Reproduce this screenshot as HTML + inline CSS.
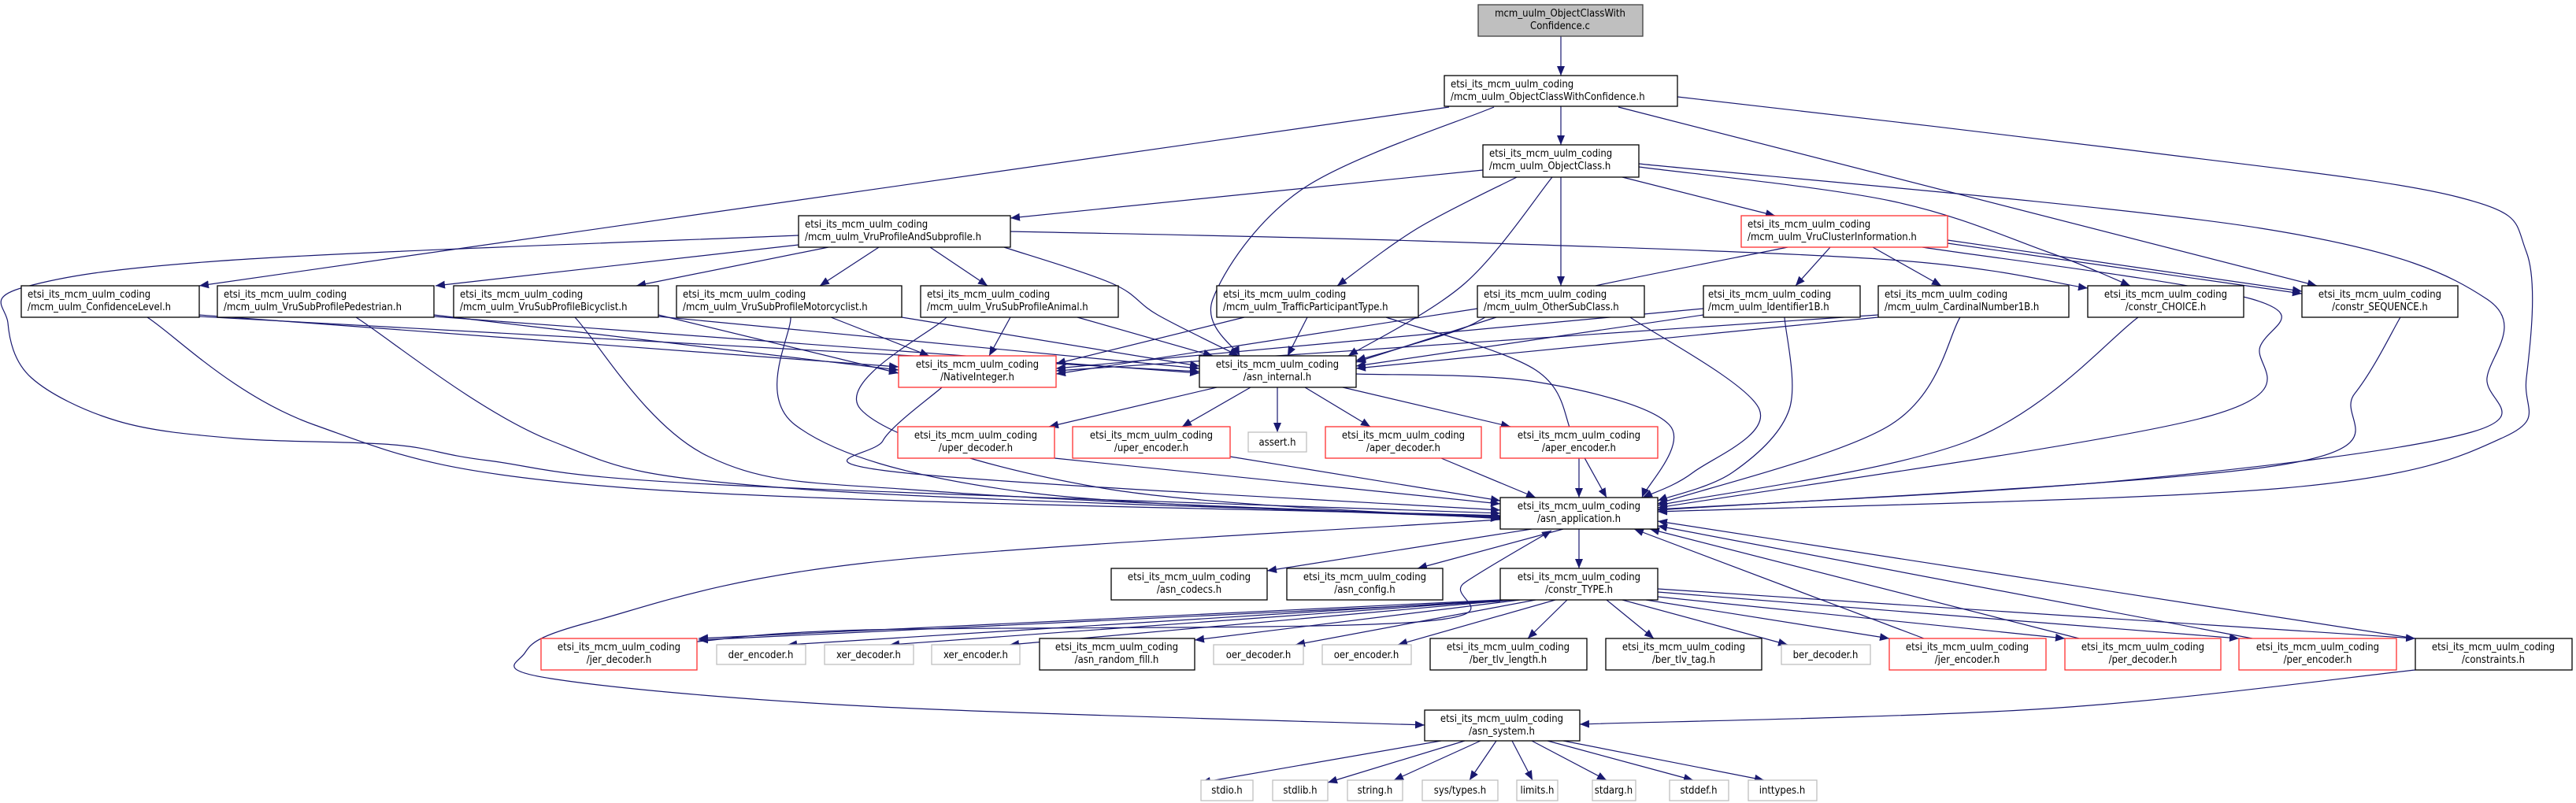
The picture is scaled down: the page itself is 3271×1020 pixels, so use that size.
<!DOCTYPE html>
<html><head><meta charset="utf-8"><style>
html,body{margin:0;padding:0;background:#fff;}
svg{display:block;}
text{font-family:"DejaVu Sans Condensed","DejaVu Sans","Liberation Sans",sans-serif;font-size:13px;fill:#000;}
.n{fill:#fff;stroke:#000;stroke-width:1.3;}
.r{fill:#fff;stroke:#ff3030;stroke-width:1.3;}
.g{fill:#fff;stroke:#bfbfbf;stroke-width:1.3;}
.e{fill:none;stroke:#191970;stroke-width:1.2;}
</style></head><body>
<svg id="s" width="3271" height="1020" viewBox="0 0 3271 1020" xmlns="http://www.w3.org/2000/svg">
<defs><marker id="a" markerUnits="userSpaceOnUse" markerWidth="12" markerHeight="10" refX="12" refY="5" orient="auto"><path d="M0,0 L12,5 L0,10 z" fill="#191970"/></marker></defs>
<g id="edges"></g>
<g id="nodes">
<rect x="1877" y="6" width="209" height="40" fill="#bfbfbf" stroke="#404040" stroke-width="1.3"/>
<text x="1981" y="21" text-anchor="middle">mcm_uulm_ObjectClassWith</text><text x="1981" y="37" text-anchor="middle">Confidence.c</text>

<rect class="n" x="1834" y="96" width="296" height="39"/><text x="1842" y="111">etsi_its_mcm_uulm_coding</text><text x="1842" y="127">/mcm_uulm_ObjectClassWithConfidence.h</text>
<rect class="n" x="1883" y="184" width="198" height="41"/><text x="1891" y="199">etsi_its_mcm_uulm_coding</text><text x="1891" y="215">/mcm_uulm_ObjectClass.h</text>
<rect class="n" x="1014" y="274" width="269" height="40"/><text x="1022" y="289">etsi_its_mcm_uulm_coding</text><text x="1022" y="305">/mcm_uulm_VruProfileAndSubprofile.h</text>
<rect class="r" x="2211" y="274" width="262" height="40"/><text x="2219" y="289">etsi_its_mcm_uulm_coding</text><text x="2219" y="305">/mcm_uulm_VruClusterInformation.h</text>

<rect class="n" x="27" y="363" width="226" height="40"/><text x="35" y="378">etsi_its_mcm_uulm_coding</text><text x="35" y="394">/mcm_uulm_ConfidenceLevel.h</text>
<rect class="n" x="276" y="363" width="275" height="40"/><text x="284" y="378">etsi_its_mcm_uulm_coding</text><text x="284" y="394">/mcm_uulm_VruSubProfilePedestrian.h</text>
<rect class="n" x="576" y="363" width="260" height="40"/><text x="584" y="378">etsi_its_mcm_uulm_coding</text><text x="584" y="394">/mcm_uulm_VruSubProfileBicyclist.h</text>
<rect class="n" x="859" y="363" width="286" height="40"/><text x="867" y="378">etsi_its_mcm_uulm_coding</text><text x="867" y="394">/mcm_uulm_VruSubProfileMotorcyclist.h</text>
<rect class="n" x="1169" y="363" width="251" height="40"/><text x="1177" y="378">etsi_its_mcm_uulm_coding</text><text x="1177" y="394">/mcm_uulm_VruSubProfileAnimal.h</text>
<rect class="n" x="1545" y="363" width="256" height="40"/><text x="1553" y="378">etsi_its_mcm_uulm_coding</text><text x="1553" y="394">/mcm_uulm_TrafficParticipantType.h</text>
<rect class="n" x="1876" y="363" width="212" height="40"/><text x="1884" y="378">etsi_its_mcm_uulm_coding</text><text x="1884" y="394">/mcm_uulm_OtherSubClass.h</text>
<rect class="n" x="2163" y="363" width="199" height="40"/><text x="2169" y="378">etsi_its_mcm_uulm_coding</text><text x="2169" y="394">/mcm_uulm_Identifier1B.h</text>
<rect class="n" x="2385" y="363" width="242" height="40"/><text x="2393" y="378">etsi_its_mcm_uulm_coding</text><text x="2393" y="394">/mcm_uulm_CardinalNumber1B.h</text>
<rect class="n" x="2651" y="363" width="198" height="40"/><text x="2750" y="378" text-anchor="middle">etsi_its_mcm_uulm_coding</text><text x="2750" y="394" text-anchor="middle">/constr_CHOICE.h</text>
<rect class="n" x="2923" y="363" width="198" height="40"/><text x="3022" y="378" text-anchor="middle">etsi_its_mcm_uulm_coding</text><text x="3022" y="394" text-anchor="middle">/constr_SEQUENCE.h</text>

<rect class="r" x="1141" y="452" width="200" height="40"/><text x="1241" y="467" text-anchor="middle">etsi_its_mcm_uulm_coding</text><text x="1241" y="483" text-anchor="middle">/NativeInteger.h</text>
<rect class="n" x="1523" y="452" width="199" height="40"/><text x="1622" y="467" text-anchor="middle">etsi_its_mcm_uulm_coding</text><text x="1622" y="483" text-anchor="middle">/asn_internal.h</text>

<rect class="r" x="1140" y="542" width="199" height="40"/><text x="1239" y="557" text-anchor="middle">etsi_its_mcm_uulm_coding</text><text x="1239" y="573" text-anchor="middle">/uper_decoder.h</text>
<rect class="r" x="1362" y="542" width="200" height="40"/><text x="1462" y="557" text-anchor="middle">etsi_its_mcm_uulm_coding</text><text x="1462" y="573" text-anchor="middle">/uper_encoder.h</text>
<rect class="g" x="1585" y="549" width="74" height="25"/><text x="1622" y="566" text-anchor="middle">assert.h</text>
<rect class="r" x="1683" y="542" width="198" height="40"/><text x="1782" y="557" text-anchor="middle">etsi_its_mcm_uulm_coding</text><text x="1782" y="573" text-anchor="middle">/aper_decoder.h</text>
<rect class="r" x="1905" y="542" width="200" height="40"/><text x="2005" y="557" text-anchor="middle">etsi_its_mcm_uulm_coding</text><text x="2005" y="573" text-anchor="middle">/aper_encoder.h</text>

<rect class="n" x="1905" y="632" width="200" height="40"/><text x="2005" y="647" text-anchor="middle">etsi_its_mcm_uulm_coding</text><text x="2005" y="663" text-anchor="middle">/asn_application.h</text>

<rect class="n" x="1411" y="722" width="198" height="40"/><text x="1510" y="737" text-anchor="middle">etsi_its_mcm_uulm_coding</text><text x="1510" y="753" text-anchor="middle">/asn_codecs.h</text>
<rect class="n" x="1634" y="722" width="198" height="40"/><text x="1733" y="737" text-anchor="middle">etsi_its_mcm_uulm_coding</text><text x="1733" y="753" text-anchor="middle">/asn_config.h</text>
<rect class="n" x="1905" y="722" width="200" height="40"/><text x="2005" y="737" text-anchor="middle">etsi_its_mcm_uulm_coding</text><text x="2005" y="753" text-anchor="middle">/constr_TYPE.h</text>

<rect class="r" x="687" y="811" width="198" height="40"/><text x="786" y="826" text-anchor="middle">etsi_its_mcm_uulm_coding</text><text x="786" y="842" text-anchor="middle">/jer_decoder.h</text>
<rect class="g" x="910" y="819" width="113" height="25"/><text x="966" y="836" text-anchor="middle">der_encoder.h</text>
<rect class="g" x="1047" y="819" width="113" height="25"/><text x="1103" y="836" text-anchor="middle">xer_decoder.h</text>
<rect class="g" x="1183" y="819" width="112" height="25"/><text x="1239" y="836" text-anchor="middle">xer_encoder.h</text>
<rect class="n" x="1320" y="811" width="197" height="40"/><text x="1418" y="826" text-anchor="middle">etsi_its_mcm_uulm_coding</text><text x="1418" y="842" text-anchor="middle">/asn_random_fill.h</text>
<rect class="g" x="1541" y="819" width="114" height="25"/><text x="1598" y="836" text-anchor="middle">oer_decoder.h</text>
<rect class="g" x="1679" y="819" width="113" height="25"/><text x="1735" y="836" text-anchor="middle">oer_encoder.h</text>
<rect class="n" x="1816" y="811" width="199" height="40"/><text x="1915" y="826" text-anchor="middle">etsi_its_mcm_uulm_coding</text><text x="1915" y="842" text-anchor="middle">/ber_tlv_length.h</text>
<rect class="n" x="2039" y="811" width="198" height="40"/><text x="2138" y="826" text-anchor="middle">etsi_its_mcm_uulm_coding</text><text x="2138" y="842" text-anchor="middle">/ber_tlv_tag.h</text>
<rect class="g" x="2262" y="819" width="113" height="25"/><text x="2318" y="836" text-anchor="middle">ber_decoder.h</text>
<rect class="r" x="2399" y="811" width="199" height="40"/><text x="2498" y="826" text-anchor="middle">etsi_its_mcm_uulm_coding</text><text x="2498" y="842" text-anchor="middle">/jer_encoder.h</text>
<rect class="r" x="2622" y="811" width="198" height="40"/><text x="2721" y="826" text-anchor="middle">etsi_its_mcm_uulm_coding</text><text x="2721" y="842" text-anchor="middle">/per_decoder.h</text>
<rect class="r" x="2843" y="811" width="200" height="40"/><text x="2943" y="826" text-anchor="middle">etsi_its_mcm_uulm_coding</text><text x="2943" y="842" text-anchor="middle">/per_encoder.h</text>
<rect class="n" x="3067" y="811" width="199" height="40"/><text x="3166" y="826" text-anchor="middle">etsi_its_mcm_uulm_coding</text><text x="3166" y="842" text-anchor="middle">/constraints.h</text>

<rect class="n" x="1809" y="902" width="197" height="39"/><text x="1907" y="917" text-anchor="middle">etsi_its_mcm_uulm_coding</text><text x="1907" y="933" text-anchor="middle">/asn_system.h</text>

<rect class="g" x="1525" y="991" width="66" height="26"/><text x="1558" y="1008" text-anchor="middle">stdio.h</text>
<rect class="g" x="1616" y="991" width="70" height="26"/><text x="1651" y="1008" text-anchor="middle">stdlib.h</text>
<rect class="g" x="1711" y="991" width="70" height="26"/><text x="1746" y="1008" text-anchor="middle">string.h</text>
<rect class="g" x="1806" y="991" width="96" height="26"/><text x="1854" y="1008" text-anchor="middle">sys/types.h</text>
<rect class="g" x="1926" y="991" width="52" height="26"/><text x="1952" y="1008" text-anchor="middle">limits.h</text>
<rect class="g" x="2022" y="991" width="55" height="26"/><text x="2049" y="1008" text-anchor="middle">stdarg.h</text>
<rect class="g" x="2120" y="991" width="75" height="26"/><text x="2157" y="1008" text-anchor="middle">stddef.h</text>
<rect class="g" x="2220" y="991" width="87" height="26"/><text x="2263" y="1008" text-anchor="middle">inttypes.h</text>
</g>
</svg>
<script>
var E=[
[1982,46,1982,96],
[1982,135,1982,184],
[1840,136,253,363],
[1897,136,1654,240,1540,380,1574,452],
[2055,136,2942,363],
[2130,123,2700,190,3120,250,3208,320,3208,480,3180,555,2900,620,2105,650],
[1883,216,1283,277],
[2060,225,2254,274],
[1926,225,1800,290,1698,363],
[1982,225,1982,363],
[1971,225,1860,360,1712,452],
[2081,212,2400,255,2600,320,2705,363],
[2081,208,2871,290,3158,380,3158,480,3138,549,2700,610,2105,647],
[1014,311,553,363],
[1052,314,808,363],
[1116,314,1041,363],
[1181,314,1254,363],
[1275,314,1412,360,1470,400,1573,452],
[1283,294,1800,306,2400,330,2651,366],
[1014,299,300,330,30,365,10,410,40,480,150,535,300,557,500,565,620,585,900,615,1905,652],
[2473,305,2923,370],[2473,309,2923,373],
[2270,314,1950,380,1850,420,1722,458],
[2324,314,2280,363],[2378,314,2465,363],
[2441,314,2860,380,2870,440,2800,530,2105,645],
[253,400,1141,466],[253,402,1523,472],[187,403,400,540,800,620,1905,655],
[551,400,1141,470],[551,402,1523,474],[452,403,700,560,1000,620,1905,656],
[836,400,1141,474],[836,402,1523,468],[730,403,900,580,1200,625,1905,657],
[1055,403,1180,452],[1145,403,1523,465],[1004,403,1010,540,1300,625,1905,658],
[1368,403,1540,452],[1283,403,1256,452],[1202,403,1093,520,1400,620,1905,659],
[1580,403,1341,462],[1660,403,1635,452],[1760,403,1950,470,2000,560,2040,632],
[1876,392,1341,475],[1900,403,1722,460],[2070,403,2234,520,2150,600,2086,632],
[2163,392,1341,468],[2163,400,1722,465],[2266,403,2272,520,2200,600,2105,636],
[2385,400,1341,471],[2385,403,1722,468],[2489,403,2400,540,2105,640],
[2715,403,2500,560,2105,642],
[3048,403,2990,500,2900,590,2105,648],
[1196,492,1121,560,1142,600,1905,648],
[1545,492,1332,542],[1588,492,1501,542],[1622,492,1622,549],[1657,492,1740,542],[1705,492,1918,542],
[1722,475,1950,485,2120,540,2085,632],
[1339,582,1905,640],[1562,580,1905,636],[1830,582,1950,632],[2005,582,2005,632],
[1945,672,1609,725],[1985,672,1800,722],[2005,672,2005,722],
[1905,660,1100,715,750,790,666,830,700,862,1100,897,1809,921],
[1905,762,887,811],[1905,764,887,813],
[1910,762,1000,819],[1915,762,1130,819],[1920,762,1282,819],[1930,762,1517,813],
[1950,762,1645,819],[1975,762,1775,819],[1990,762,1940,811],[2040,762,2100,811],
[2060,762,2270,819],[2090,762,2399,811],[2105,758,2622,811],[2105,752,2843,811],[2105,748,3067,811],
[885,815,1100,800,1800,790,1860,740,1970,674],
[2443,811,2075,672],[2640,811,2095,672],[2860,811,2105,668],[3067,811,2105,662],
[3067,851,2600,900,2006,920],
[1830,941,1525,994],[1860,941,1686,994],[1880,941,1770,991],[1900,941,1866,991],
[1920,941,1946,991],[1945,941,2040,991],[1965,941,2150,991],[1985,941,2240,991]
];
function cr(p){var n=p.length/2,pt=[];for(var i=0;i<n;i++)pt.push([p[2*i],p[2*i+1]]);
var d="M"+pt[0][0]+","+pt[0][1];if(n==2)return d+" L"+pt[1][0]+","+pt[1][1];
for(var i=0;i<n-1;i++){var p0=pt[i>0?i-1:0],p1=pt[i],p2=pt[i+1],p3=pt[i+2<n?i+2:n-1];
var c1=[p1[0]+(p2[0]-p0[0])/6,p1[1]+(p2[1]-p0[1])/6],c2=[p2[0]-(p3[0]-p1[0])/6,p2[1]-(p3[1]-p1[1])/6];
d+=" C"+c1[0].toFixed(1)+","+c1[1].toFixed(1)+" "+c2[0].toFixed(1)+","+c2[1].toFixed(1)+" "+p2[0]+","+p2[1];}
return d;}
var g=document.getElementById("edges"),ns="http://www.w3.org/2000/svg";
E.forEach(function(p){var e=document.createElementNS(ns,"path");e.setAttribute("d",cr(p));e.setAttribute("class","e");e.setAttribute("marker-end","url(#a)");g.appendChild(e);});
</script>
</body></html>
